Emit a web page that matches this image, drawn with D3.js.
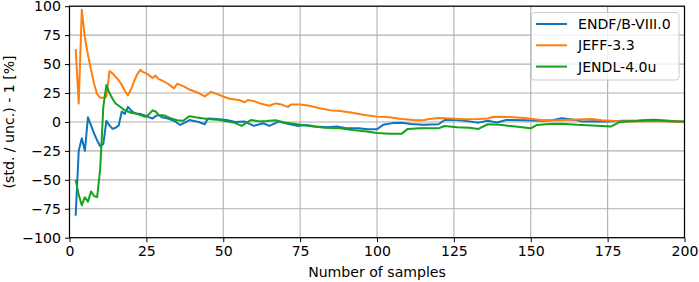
<!DOCTYPE html>
<html>
<head>
<meta charset="utf-8">
<script src="https://cdn.jsdelivr.net/npm/d3@7"></script>
<style>
  body { margin: 0; background: #fff; }
  svg text { font-family: "DejaVu Sans", sans-serif; }
</style>
</head>
<body>
<div id="chart"></div>
<script>
const seriesNames = ["ENDF/B-VIII.0", "JEFF-3.3", "JENDL-4.0u"];
const seriesColors = ["#0f74bc", "#ff7f0e", "#14a31a"];

const endfX = [2,3,4,5,6,7,8,9,10,11,12,13,14,15,16,17,18,19,20,21,22,23,24,25,26,27,28,29,30,32,34,36,38,39,42,44,45,48,51,54,57,60,63,65,68,71,74,77,80,84,87,90,94,97,100,102,105,108,111,115,120,122,126,130,133,136,139,142,148,154,157,160,164,167,171,175,180,185,190,195,200];
const endfY = [-81,-25,-14,-25,4,-3,-10,-16,-21,-19,1,-3,-6,-5,-3,9,7,13,10,8,7,7,6,5,4,3,5,6,4,3,1,-2.6,0,1.7,0,-2,3,2.5,1.7,0,0.3,-3.4,-1.1,-3.4,0.3,-1.5,-3.4,-2.6,-4,-4.5,-4,-5.5,-5.5,-6.3,-6.3,-2.5,-1,-0.6,-1.7,-2.5,-2,1.7,1.7,0.5,-0.6,1,-0.5,1.7,1.5,1,1.5,3.2,2,0.3,0.5,0.3,1,1.2,2,1,0];

const jeffX = [2,3,4,5,6,7,8,9,10,11,12,13,14,15,16,17,18,19,20,21,22,23,24,25,26,27,28,29,30,32,34,35,37,39,42,44,46,48,50,52,55,57,58,60,62,65,67,69,71,72,75,78,81,85,88,92,96,100,104,108,112,115,117,120,124,128,133,136,138,143,148,154,159,163,167,170,173,176,179,183,188,193,197,200];
const jeffY = [63,16,97,73,58,45,33,24,21,21,22,44,42,39,36,32,27,23,28,35,41,45,43,42,40,38,40,37,36,33,29,33,31,28,25,22,26,24,22,20,19,17,19,18,16,14,16,15,13,15,15,14,12,10,9.5,8,6,4.6,4,2.6,1.7,1.5,2.5,3.5,3,2.3,2.5,3,4.5,4.2,3.5,1.5,1.5,2,2.3,2.5,1.5,1,0.5,0.3,0.5,0.6,0.2,0.3];

const jendlX = [2,3,4,5,6,7,8,9,10,11,12,13,14,15,16,17,18,19,20,21,22,23,24,25,26,27,28,29,31,33,35,37,39,41,43,45,48,51,54,56,59,62,64,67,70,74,78,83,88,92,96,100,104,108,110,114,117,120,122,126,130,133,136,140,145,150,152,156,160,165,170,176,179,183,190,195,200];
const jendlY = [-50,-63,-72,-65,-69,-60,-64,-65,-40,13,32,25,20,16,14,12,10,9,8,7.5,7,6,5,4.5,7,10,9,6,5.5,3,1.5,1,5,4,3.2,2.5,2,0.5,-1,-3.4,1.7,0.5,0.8,1.5,-0.5,-2,-3.5,-5,-5.5,-7,-8,-9.5,-10.3,-10.3,-6,-5.5,-5.5,-5.5,-3.5,-4.5,-5,-6,-2,-2.5,-4,-5.5,-2.6,-1.7,-1.5,-2.5,-3,-4,0,0.5,1.5,0.5,0.3];

const xTicks = [0, 25, 50, 75, 100, 125, 150, 175, 200];
const yTicks = [-100, -75, -50, -25, 0, 25, 50, 75, 100];

const width = 699, height = 282;
const margin = { top: 6.2, right: 14.5, bottom: 44.3, left: 69.5 };
const fontSize = 14.1;

const svg = d3.select("#chart").append("svg")
  .attr("width", width)
  .attr("height", height);

const x = d3.scaleLinear().domain([0, 200]).range([margin.left, width - margin.right]);
const y = d3.scaleLinear().domain([-100, 100]).range([height - margin.bottom, margin.top]);

// grid
svg.append("g").selectAll("line").data(xTicks).join("line")
  .attr("x1", d => x(d)).attr("x2", d => x(d))
  .attr("y1", y(-100)).attr("y2", y(100))
  .attr("stroke", "#b0b0b0").attr("stroke-width", 1.1);
svg.append("g").selectAll("line").data(yTicks).join("line")
  .attr("x1", x(0)).attr("x2", x(200))
  .attr("y1", d => y(d)).attr("y2", d => y(d))
  .attr("stroke", "#b0b0b0").attr("stroke-width", 1.1);

svg.append("clipPath").attr("id", "clip")
  .append("rect")
  .attr("x", x(0)).attr("y", y(100))
  .attr("width", x(200) - x(0)).attr("height", y(-100) - y(100));

const series = [
  { xs: endfX, ys: endfY },
  { xs: jeffX, ys: jeffY },
  { xs: jendlX, ys: jendlY }
];

const line = d3.line().x(d => x(d[0])).y(d => y(d[1]));

svg.append("g").attr("clip-path", "url(#clip)")
  .selectAll("path").data(series).join("path")
  .attr("d", d => line(d3.zip(d.xs, d.ys)))
  .attr("fill", "none")
  .attr("stroke", (d, i) => seriesColors[i])
  .attr("stroke-width", 2)
  .attr("stroke-linejoin", "round");

// axes
const xAxis = d3.axisBottom(x).tickValues(xTicks).tickSize(4.5).tickPadding(4);
const yAxis = d3.axisLeft(y).tickValues(yTicks).tickSize(4.5).tickPadding(4)
  .tickFormat(d => d < 0 ? "\u2212" + Math.abs(d) : d);

const gx = svg.append("g").attr("transform", `translate(0,${y(-100)})`).call(xAxis);
const gy = svg.append("g").attr("transform", `translate(${x(0)},0)`).call(yAxis);
[gx, gy].forEach(g => {
  g.select(".domain").remove();
  g.selectAll("line").attr("stroke", "#000").attr("stroke-width", 1);
  g.selectAll("text").attr("font-size", fontSize).attr("fill", "#000")
    .style("font-family", "DejaVu Sans");
});

// frame
svg.append("rect")
  .attr("x", x(0)).attr("y", y(100))
  .attr("width", x(200) - x(0)).attr("height", y(-100) - y(100))
  .attr("fill", "none").attr("stroke", "#000").attr("stroke-width", 1.2);

svg.append("text")
  .attr("x", (x(0) + x(200)) / 2).attr("y", 276.5)
  .attr("text-anchor", "middle").attr("font-size", fontSize)
  .text("Number of samples");

svg.append("text")
  .attr("transform", `translate(14,${(y(-100) + y(100)) / 2}) rotate(-90)`)
  .attr("text-anchor", "middle").attr("font-size", fontSize)
  .text("(std. / unc.) - 1 [%]");

// legend
const legend = svg.append("g");
legend.append("rect")
  .attr("x", 531.5).attr("y", 12.5).attr("width", 147.5).attr("height", 67.5)
  .attr("rx", 3).attr("fill", "#fff").attr("fill-opacity", 0.8)
  .attr("stroke", "#cccccc").attr("stroke-width", 1);
const items = legend.selectAll("g.item").data(seriesNames).join("g")
  .attr("transform", (d, i) => `translate(0,${24 + i * 21.3})`);
items.append("line")
  .attr("x1", 536).attr("x2", 567).attr("y1", 0).attr("y2", 0)
  .attr("stroke", (d, i) => seriesColors[i]).attr("stroke-width", 2);
items.append("text")
  .attr("x", 578).attr("y", 5).attr("font-size", fontSize)
  .text(d => d);
</script>
</body>
</html>
